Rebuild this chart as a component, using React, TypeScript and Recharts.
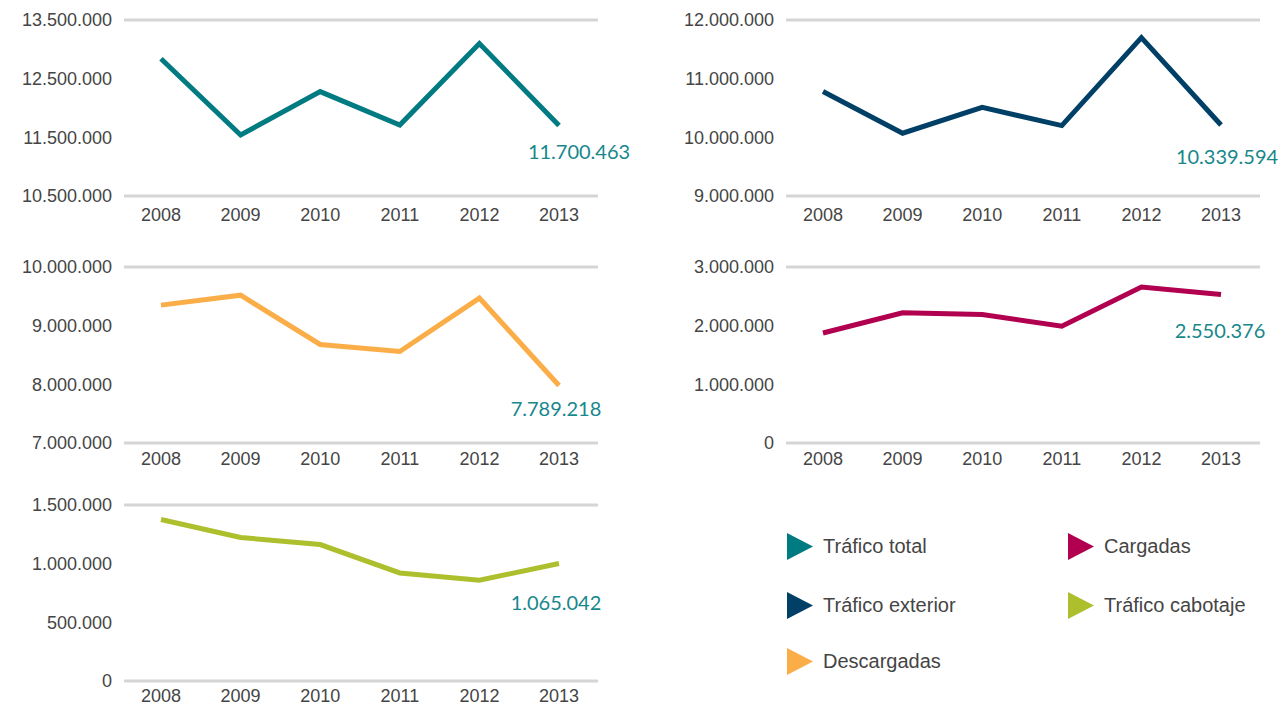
import React from 'react';
import { LineChart, Line, XAxis, YAxis, ReferenceLine } from 'recharts';

const years = ['2008', '2009', '2010', '2011', '2012', '2013'];

const traficoTotal = [12840000, 11540000, 12280000, 11710000, 13100000, 11700463];
const traficoExterior = [10780000, 10070000, 10510000, 10200000, 11700000, 10210000];
const descargadas = [9350000, 9520000, 8680000, 8560000, 9470000, 7980000];
const cargadas = [1875000, 2220000, 2190000, 1990000, 2660000, 2530000];
const traficoCabotaje = [1376000, 1223000, 1163000, 921000, 859000, 1001000];

// values printed next to the last point
const latestLabels = [11700463, 10339594, 7789218, 2550376, 1065042];

const ticksTotal = [10500000, 11500000, 12500000, 13500000];
const ticksExterior = [9000000, 10000000, 11000000, 12000000];
const ticksDescargadas = [7000000, 8000000, 9000000, 10000000];
const ticksCargadas = [0, 1000000, 2000000, 3000000];
const ticksCabotaje = [0, 500000, 1000000, 1500000];

const legendItems = [
  { name: 'Tráfico total', color: '#007b82' },
  { name: 'Cargadas', color: '#b1004f' },
  { name: 'Tráfico exterior', color: '#003f66' },
  { name: 'Tráfico cabotaje', color: '#adbf2c' },
  { name: 'Descargadas', color: '#fbad48' },
];

const FONT = '"Liberation Sans", Arial, sans-serif';
const TEXT = '#454545';
const GRID = '#d5d5d5';
const LABEL = '#17878c';

const fmt = (n: number) => String(n).replace(/\B(?=(\d{3})+(?!\d))/g, '.');

interface MiniProps {
  values: number[];
  ticks: number[];
  color: string;
  latest: number;
  dx: number;
  dy: number;
  left: number;
  top: number;
  width: number;
  xMargin: number;
  bottom: number;
}

function MiniChart({ values, ticks, color, latest, dx, dy, left, top, width, xMargin, bottom }: MiniProps) {
  const data = years.map((y, i) => ({ year: y, v: values[i] }));
  const lo = ticks[0];
  const hi = ticks[ticks.length - 1];

  const renderLabel = (p: any) => {
    if (p.index !== values.length - 1) return null;
    return (
      <text
        key="last"
        x={p.x + dx}
        y={p.y + dy}
        textAnchor="middle"
        dominantBaseline="central"
        fill={LABEL}
        fontSize={20}
        fontFamily='Lato, "Open Sans", sans-serif'
      >
        {fmt(latest)}
      </text>
    );
  };

  // plot area is always 176px tall, starting 20px below the chart top
  return (
    <div style={{ position: 'absolute', left, top }}>
      <LineChart
        width={width}
        height={20 + 176 + 26 + bottom}
        data={data}
        margin={{ top: 20, right: width - 598, bottom, left: 0 }}
      >
        <ReferenceLine y={hi} stroke={GRID} strokeWidth={3} />
        <ReferenceLine y={lo} stroke={GRID} strokeWidth={3} />
        <XAxis
          dataKey="year"
          axisLine={false}
          tickLine={false}
          tickMargin={xMargin}
          height={26}
          padding={{ left: 37, right: 39 }}
          tick={{ fill: TEXT, fontSize: 18, fontFamily: FONT }}
        />
        <YAxis
          type="number"
          domain={[lo, hi]}
          ticks={ticks}
          width={124}
          axisLine={false}
          tickLine={false}
          tickMargin={6}
          tickFormatter={fmt}
          tick={{ fill: TEXT, fontSize: 18, fontFamily: FONT }}
        />
        <Line
          type="linear"
          dataKey="v"
          stroke={color}
          strokeWidth={5}
          dot={false}
          activeDot={false}
          label={renderLabel}
          isAnimationActive={false}
        />
      </LineChart>
    </div>
  );
}

function Triangle({ color }: { color: string }) {
  return (
    <svg width={26} height={27} style={{ display: 'block' }}>
      <polygon points="0,0 26,13.5 0,27" fill={color} />
    </svg>
  );
}

export default function App() {
  const rows = [547, 547, 606, 606, 662];
  const cols = [787, 1068, 787, 1068, 787];
  return (
    <div
      style={{
        position: 'absolute',
        left: 0,
        top: 0,
        width: 1284,
        height: 708,
        overflow: 'hidden',
        background: '#ffffff',
      }}
    >
      <MiniChart values={traficoTotal} ticks={ticksTotal} color="#007b82" latest={latestLabels[0]} dx={20} dy={25} left={0} top={0} width={660} xMargin={6} bottom={12} />
      <MiniChart values={traficoExterior} ticks={ticksExterior} color="#003f66" latest={latestLabels[1]} dx={6} dy={31} left={662} top={0} width={620} xMargin={6} bottom={12} />
      <MiniChart values={descargadas} ticks={ticksDescargadas} color="#fbad48" latest={latestLabels[2]} dx={-3} dy={22} left={0} top={247} width={660} xMargin={3} bottom={12} />
      <MiniChart values={cargadas} ticks={ticksCargadas} color="#b1004f" latest={latestLabels[3]} dx={-1} dy={35} left={662} top={247} width={620} xMargin={3} bottom={12} />
      <MiniChart values={traficoCabotaje} ticks={ticksCabotaje} color="#adbf2c" latest={latestLabels[4]} dx={-3} dy={38} left={0} top={485} width={660} xMargin={2} bottom={1} />

      {legendItems.map((item, i) => (
        <div
          key={item.name}
          style={{
            position: 'absolute',
            left: cols[i],
            top: rows[i] - 14,
            height: 27,
            display: 'flex',
            alignItems: 'center',
            fontFamily: FONT,
            fontSize: 20,
            color: TEXT,
            whiteSpace: 'nowrap',
          }}
        >
          <Triangle color={item.color} />
          <span style={{ marginLeft: 10 }}>{item.name}</span>
        </div>
      ))}
    </div>
  );
}
